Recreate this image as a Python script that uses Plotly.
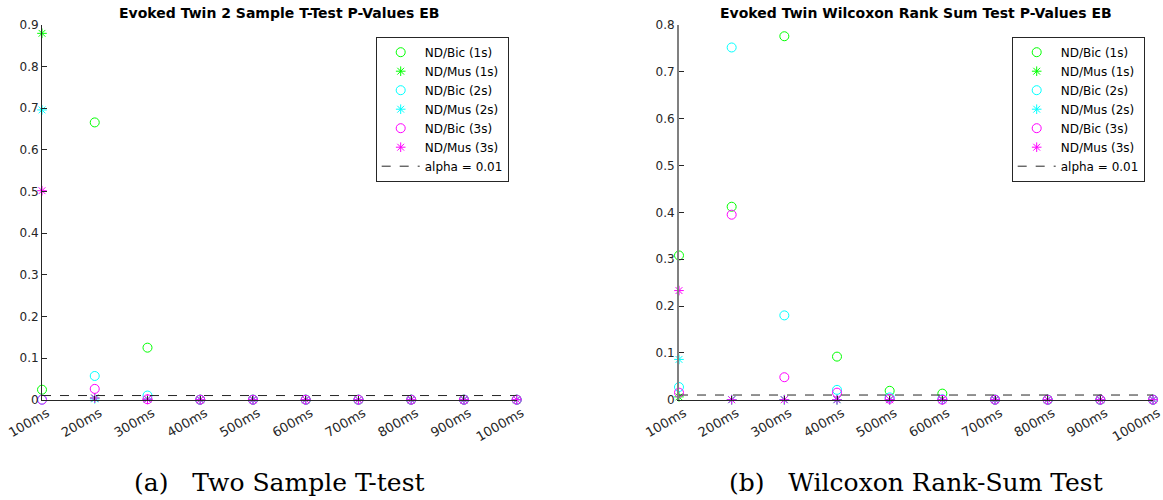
import plotly.graph_objects as go

# ---------------- data ----------------
categories = ["100ms", "200ms", "300ms", "400ms", "500ms", "600ms", "700ms", "800ms", "900ms", "1000ms"]
x_pos = [1, 2, 3, 4, 5, 6, 7, 8, 9, 10]

series_names = ["ND/Bic (1s)", "ND/Mus (1s)", "ND/Bic (2s)", "ND/Mus (2s)", "ND/Bic (3s)", "ND/Mus (3s)"]

# Two sample t-test p-values
t_bic_1s = [0.024, 0.666, 0.125, 0.0, 0.0, 0.0, 0.0, 0.0, 0.0, 0.0]
t_mus_1s = [0.880, 0.004, 0.001, 0.0, 0.0, 0.0, 0.0, 0.0, 0.0, 0.0]
t_bic_2s = [0.0, 0.057, 0.010, 0.0, 0.0, 0.0, 0.0, 0.0, 0.0, 0.0]
t_mus_2s = [0.696, 0.002, 0.001, 0.0, 0.0, 0.0, 0.0, 0.0, 0.0, 0.0]
t_bic_3s = [0.0, 0.026, 0.001, 0.0, 0.0, 0.0, 0.0, 0.0, 0.0, 0.0]
t_mus_3s = [0.502, 0.004, 0.001, 0.0, 0.0, 0.0, 0.0, 0.0, 0.0, 0.0]

# Wilcoxon rank-sum p-values
w_bic_1s = [0.308, 0.412, 0.776, 0.092, 0.019, 0.013, 0.0, 0.0, 0.0, 0.0]
w_mus_1s = [0.006, 0.0, 0.0, 0.0, 0.0, 0.0, 0.0, 0.0, 0.0, 0.0]
w_bic_2s = [0.027, 0.752, 0.180, 0.021, 0.005, 0.001, 0.0, 0.0, 0.0, 0.0]
w_mus_2s = [0.086, 0.0, 0.0, 0.0, 0.0, 0.0, 0.0, 0.0, 0.0, 0.0]
w_bic_3s = [0.015, 0.395, 0.048, 0.015, 0.002, 0.0, 0.0, 0.0, 0.0, 0.0]
w_mus_3s = [0.233, 0.0, 0.0, 0.0, 0.0, 0.0, 0.0, 0.0, 0.0, 0.0]

alpha = 0.01

t_ticks = [0, 0.1, 0.2, 0.3, 0.4, 0.5, 0.6, 0.7, 0.8, 0.9]
t_ticklabels = ["0", "0.1", "0.2", "0.3", "0.4", "0.5", "0.6", "0.7", "0.8", "0.9"]
w_ticks = [0, 0.1, 0.2, 0.3, 0.4, 0.5, 0.6, 0.7, 0.8]
w_ticklabels = ["0", "0.1", "0.2", "0.3", "0.4", "0.5", "0.6", "0.7", "0.8"]

titles = ["Evoked Twin 2 Sample T-Test P-Values EB", "Evoked Twin Wilcoxon Rank Sum Test P-Values EB"]
captions = ["(a)", "Two Sample T-test", "(b)", "Wilcoxon Rank-Sum Test"]

# ---------------- styles ----------------
colors = ["#00ff00", "#00ff00", "#00ffff", "#00ffff", "#ff00ff", "#ff00ff"]
symbols = ["circle-open", "asterisk-open", "circle-open", "asterisk-open", "circle-open", "asterisk-open"]
sizes = [9, 8, 9, 8, 9, 8]

SANS = "DejaVu Sans, sans-serif"
SERIF = "DejaVu Serif, serif"

W, H = 1163, 500
fig = go.Figure()

panels = [
    (t_bic_1s, t_mus_1s, t_bic_2s, t_mus_2s, t_bic_3s, t_mus_3s),
    (w_bic_1s, w_mus_1s, w_bic_2s, w_mus_2s, w_bic_3s, w_mus_3s),
]

for p, data in enumerate(panels):
    xa = "x" if p == 0 else "x2"
    ya = "y" if p == 0 else "y2"
    lg = "legend" if p == 0 else "legend2"
    for i, ys in enumerate(data):
        fig.add_trace(go.Scatter(
            x=x_pos, y=ys, mode="markers", name=series_names[i],
            marker=dict(symbol=symbols[i], size=sizes[i], color=colors[i],
                        line=dict(width=1, color=colors[i])),
            xaxis=xa, yaxis=ya, legend=lg, cliponaxis=False,
        ))
    fig.add_trace(go.Scatter(
        x=[x_pos[0], x_pos[-1]], y=[alpha, alpha], mode="lines",
        name="alpha = 0.01", line=dict(color="#262626", width=1, dash="dash"),
        xaxis=xa, yaxis=ya, legend=lg, cliponaxis=False,
    ))

tickfont = dict(family=SANS, size=12, color="#262626")
xtickfont = dict(family=SANS, size=13, color="#262626")

dom1 = [42 / W, 516.7 / W]
dom2 = [679 / W, 1153 / W]
ydom = [1 - 399.7 / H, 1 - 25 / H]

common_x = dict(range=[1, 10], tickvals=x_pos, ticktext=categories, tickangle=-30,
                showline=True, linecolor="#262626", linewidth=1, ticks="inside",
                ticklen=4, tickcolor="#262626", showgrid=False, zeroline=False,
                tickfont=xtickfont, fixedrange=True, automargin=False,
                ticklabelshift=5, ticklabeloverflow="allow")

legend_common = dict(y=1 - 36.7 / H, xanchor="left", yanchor="top",
                     bgcolor="white", bordercolor="#262626", borderwidth=1,
                     font=dict(family=SANS, size=12, color="#000000"),
                     tracegroupgap=0, itemwidth=38)

fig.update_layout(
    width=W, height=H,
    margin=dict(l=0, r=0, t=0, b=0, autoexpand=False),
    paper_bgcolor="white", plot_bgcolor="white",
    xaxis=dict(domain=dom1, anchor="y", **common_x),
    xaxis2=dict(domain=dom2, anchor="y2", **common_x),
    yaxis=dict(domain=ydom, anchor="x", range=[0, 0.9], tickvals=t_ticks, ticktext=t_ticklabels,
               showline=True, linecolor="#262626", linewidth=1, ticks="inside", ticklen=5,
               tickcolor="#262626", showgrid=False, zeroline=False, tickfont=tickfont,
               automargin=False),
    yaxis2=dict(domain=ydom, anchor="x2", range=[0, 0.8], tickvals=w_ticks, ticktext=w_ticklabels,
                showline=True, linecolor="#808080", linewidth=2, ticks="inside", ticklen=5,
                tickcolor="#262626", showgrid=False, zeroline=False, tickfont=tickfont,
                automargin=False),
    legend=dict(x=375.7 / W, **legend_common),
    legend2=dict(x=1011.7 / W, **legend_common),
    showlegend=True,
)

centers = [(dom1[0] + dom1[1]) / 2, (dom2[0] + dom2[1]) / 2]
for p in range(2):
    fig.add_annotation(text="<b>" + titles[p] + "</b>", x=centers[p], y=1 - 13 / H,
                       xref="paper", yref="paper", showarrow=False,
                       xanchor="center", yanchor="middle",
                       font=dict(family=SANS, size=14, color="#000000"))
    fig.add_annotation(text=captions[2 * p] + "&nbsp;&nbsp;&nbsp;" + captions[2 * p + 1],
                       x=centers[p], y=1 - 482 / H,
                       xref="paper", yref="paper", showarrow=False,
                       xanchor="center", yanchor="middle",
                       font=dict(family=SERIF, size=25, color="#000000"))

fig.write_html("out.html")
